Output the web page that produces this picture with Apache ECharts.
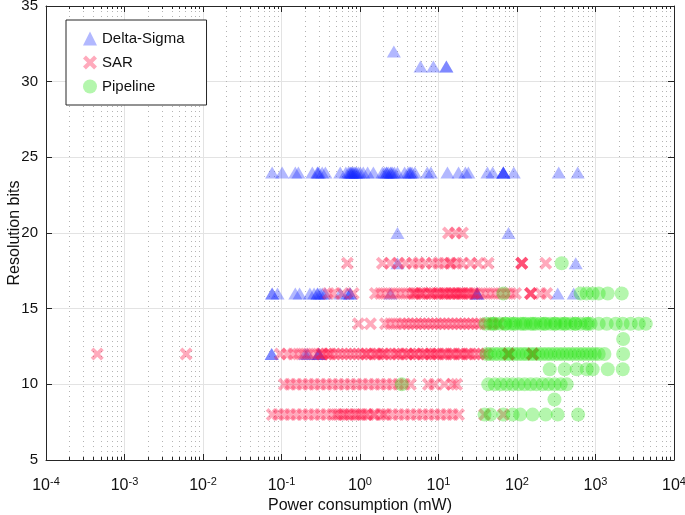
<!DOCTYPE html>
<html><head><meta charset="utf-8">
<script src="https://cdn.jsdelivr.net/npm/echarts@6/dist/echarts.min.js"></script>
<style>html,body{margin:0;padding:0;background:#fff}#c{width:685px;height:515px}</style>
</head><body><div id="c"></div>
<script>
// ---- Data: power consumption (mW) per resolution (bits) ----
// Delta-Sigma
const ds32 = [2.7];
const ds31 = [5.9, 8.6, 12.6, 12.6];
const ds24 = [0.076, 0.102, 0.15, 0.164, 0.247, 0.286, 0.29, 0.30, 0.33, 0.362, 0.56, 0.66, 0.71, 0.74, 0.76, 0.78, 0.80, 0.82, 0.85, 0.88, 0.90, 0.95, 1.01, 1.10, 1.25, 1.48, 1.93, 2.05, 2.17, 2.2, 2.3, 2.44, 2.5, 2.6, 2.75, 3.0, 3.7, 4.1, 4.3, 4.4, 4.6, 5.0, 7.2, 8.0, 13, 18, 22, 24, 42, 49, 67, 67, 67, 67, 91, 340, 593];
const ds20 = [3.0, 78];
const ds18 = [3.0, 560];
const ds16 = [0.076, 0.076, 0.089, 0.15, 0.17, 0.23, 0.26, 0.286, 0.29, 0.31, 0.33, 0.36, 0.56, 0.69, 0.75, 0.75, 2.44, 31, 31, 31, 330, 527];
const ds12 = [0.075, 0.075, 0.2, 0.215, 0.295, 0.3, 0.3];
// SAR
const sar20 = [13.4, 16.5, 20.2];
const sar18 = [0.69, 1.93, 2.44, 3.09, 3.8, 4.7, 5.6, 6.8, 8.4, 10, 11.9, 14.2, 14.2, 17, 20, 25.6, 32, 43, 115, 115, 115, 232];
const sar16 = [0.395, 0.458, 0.60, 0.82, 1.57, 1.82, 2.11, 2.44, 2.83, 3.27, 3.8, 4.4, 4.8, 5.0, 5.24, 5.9, 6.0, 6.44, 7.03, 7.9, 8.0, 8.6, 9.4, 10, 10.6, 11.6, 12, 12.6, 14, 14.2, 15.5, 16, 17, 18, 19.1, 20, 20.8, 22.8, 24, 25.6, 28, 29.6, 34.4, 39.7, 46, 53, 62, 72, 83, 96, 149, 149, 149, 200, 239];
const sar14 = [0.955, 1.36, 2.11, 2.44, 2.83, 3.27, 3.68, 4.14, 4.7, 5.24, 5.9, 6.62, 7.45, 8.4, 9.4, 10.6, 11.9, 13.4, 15.1, 17, 19.1, 21.5, 24.2, 27.1, 30.6, 34.4, 40.9, 48.9, 58.2];
const sar12 = [0.00045, 0.0061, 0.0966, 0.119, 0.142, 0.164, 0.190, 0.220, 0.255, 0.295, 0.331, 0.33, 0.373, 0.40, 0.419, 0.471, 0.530, 0.597, 0.671, 0.755, 0.849, 0.955, 1.07, 1.2, 1.21, 1.36, 1.53, 1.6, 1.72, 1.93, 2.0, 2.17, 2.44, 2.75, 3.0, 3.09, 3.47, 3.91, 4.0, 4.39, 4.94, 5.0, 5.56, 6.25, 6.5, 7.03, 7.91, 8.0, 8.89, 9.5, 10, 11.2, 12, 12.7, 14.2, 15, 16.0, 18.0, 19, 20.2, 22.7, 24, 25.6, 28.8, 32.4, 36.4, 40.9, 78, 78, 78, 78, 158, 158, 158, 158];
const sar10 = [0.1086, 0.129, 0.154, 0.184, 0.220, 0.262, 0.312, 0.373, 0.445, 0.530, 0.632, 0.755, 0.90, 1.07, 1.28, 1.53, 1.82, 2.17, 2.59, 3.09, 3.68, 4.39, 7.45, 8.89, 11.9, 15.1, 17.0];
const sar8 = [0.0763, 0.091, 0.1086, 0.129, 0.154, 0.184, 0.220, 0.262, 0.312, 0.373, 0.445, 0.5, 0.530, 0.6, 0.632, 0.7, 0.755, 0.85, 0.90, 1.0, 1.07, 1.2, 1.28, 1.5, 1.53, 1.82, 2.0, 2.17, 2.59, 3.09, 3.68, 4.39, 5.24, 6.25, 7.45, 8.89, 10.6, 12.7, 15.1, 18.0, 38.6, 67];
// Pipeline
const pipe18 = [371];
const pipe16 = [67, 647, 772, 921, 1099, 1432, 2158];
const pipe14 = [39.7, 46, 50, 53, 62, 70, 72, 83, 90, 96, 111, 120, 129, 149, 160, 173, 200, 220, 232, 268, 300, 311, 360, 400, 417, 483, 550, 559, 647, 750, 800, 868, 1099, 1390, 1810, 2220, 2810, 3560, 4370];
const pipe13 = [2250];
const pipe12 = [41, 46, 52, 58, 66, 74, 83, 93, 105, 118, 132, 149, 168, 189, 212, 239, 268, 302, 340, 382, 430, 483, 543, 611, 687, 773, 869, 977, 1099, 1300, 2250];
const pipe11 = [261, 405, 576, 773, 921, 1432, 2223];
const pipe10 = [3.4, 43, 52, 62, 74, 88, 105, 125, 149, 177, 212, 252, 302, 360, 430];
const pipe9 = [300];
const pipe8 = [38.6, 46, 67, 88, 110, 158, 232, 330, 600];

function rows(list) {
  const out = [];
  list.forEach(([bits, arr]) => arr.forEach(p => out.push([p, bits])));
  return out;
}
const dsData = rows([[32, ds32], [31, ds31], [24, ds24], [20, ds20], [18, ds18], [16, ds16], [12, ds12]]);
const sarData = rows([[20, sar20], [18, sar18], [16, sar16], [14, sar14], [12, sar12], [10, sar10], [8, sar8]]);
const pipeData = rows([[18, pipe18], [16, pipe16], [14, pipe14], [13, pipe13], [12, pipe12], [11, pipe11], [10, pipe10], [9, pipe9], [8, pipe8]]);

const crossPath = 'path://M0,2.5 L2.5,0 L6,3.5 L9.5,0 L12,2.5 L8.5,6 L12,9.5 L9.5,12 L6,8.5 L2.5,12 L0,9.5 L3.5,6 Z';
const FONT = 'Liberation Sans, Arial, Helvetica, sans-serif';
const AX = '#262626';

const chart = echarts.init(document.getElementById('c'), null, {renderer: 'canvas'});
const xCommon = {
  type: 'log', logBase: 10, min: 0.0001, max: 10000, splitNumber: 8,
  axisLine: {show: true, onZero: false, lineStyle: {color: AX, width: 1}},
  axisTick: {show: true, inside: true, length: 6, lineStyle: {color: AX}},
  minorTick: {show: true, splitNumber: 9, length: 3, lineStyle: {color: AX}},
};
const yCommon = {
  type: 'value', min: 5, max: 35, interval: 5,
  axisLine: {show: true, lineStyle: {color: AX, width: 1}},
  axisTick: {show: true, inside: true, length: 6, lineStyle: {color: AX}},
};
chart.setOption({
  animation: false,
  backgroundColor: '#fff',
  textStyle: {fontFamily: FONT},
  grid: {left: 46, right: 11, top: 6, bottom: 55, containLabel: false, outerBoundsMode: 'none'},
  legend: {
    orient: 'vertical', left: 66, top: 20,
    padding: [11, 22, 11, 17], itemGap: 9, itemWidth: 14, itemHeight: 14, itemTextGap: 5,
    borderColor: AX, borderWidth: 1, backgroundColor: '#fff',
    textStyle: {fontSize: 15, color: '#111', fontFamily: FONT},
    data: ['Delta-Sigma', 'SAR', 'Pipeline']
  },
  xAxis: [
    Object.assign({}, xCommon, {
      position: 'bottom',
      name: 'Power consumption (mW)', nameLocation: 'middle', nameGap: 38, nameMoveOverlap: false,
      nameTextStyle: {fontSize: 16, color: '#111', fontFamily: FONT},
      axisLabel: {
        margin: 16, color: '#111',
        formatter: v => '{b|10}{s|' + Math.round(Math.log10(v)) + '}',
        rich: {b: {fontSize: 16, fontFamily: FONT, color: '#111', lineHeight: 20}, s: {fontSize: 11, fontFamily: FONT, color: '#111', verticalAlign: 'top', lineHeight: 12}}
      },
      splitLine: {show: true, lineStyle: {color: '#e3e3e3', width: 1}},
      minorSplitLine: {show: true, lineStyle: {color: '#b4b4b4', width: 1, type: [1, 4]}}
    }),
    Object.assign({}, xCommon, {
      position: 'top', axisLabel: {show: false}, splitLine: {show: false}
    })
  ],
  yAxis: [
    Object.assign({}, yCommon, {
      position: 'left',
      name: 'Resolution bits', nameLocation: 'middle', nameGap: 23, nameRotate: 90, nameMoveOverlap: false,
      nameTextStyle: {fontSize: 16, color: '#111', fontFamily: FONT},
      axisLabel: {fontSize: 15, color: '#111', margin: 8, fontFamily: FONT},
      splitLine: {show: true, lineStyle: {color: '#e3e3e3', width: 1}}
    }),
    Object.assign({}, yCommon, {
      position: 'right', axisLabel: {show: false}, splitLine: {show: false}
    })
  ],
  series: [
    {name: 'Delta-Sigma', type: 'scatter', data: dsData, symbol: 'triangle', symbolSize: [14, 12],
     itemStyle: {color: 'rgb(20,40,255)', opacity: 0.33}},
    {name: 'SAR', type: 'scatter', data: sarData, symbol: crossPath, symbolSize: 13,
     itemStyle: {color: 'rgb(255,20,70)', opacity: 0.36}},
    {name: 'Pipeline', type: 'scatter', data: pipeData, symbol: 'circle', symbolSize: 14,
     itemStyle: {color: 'rgb(40,230,20)', opacity: 0.35}}
  ]
});
</script></body></html>
